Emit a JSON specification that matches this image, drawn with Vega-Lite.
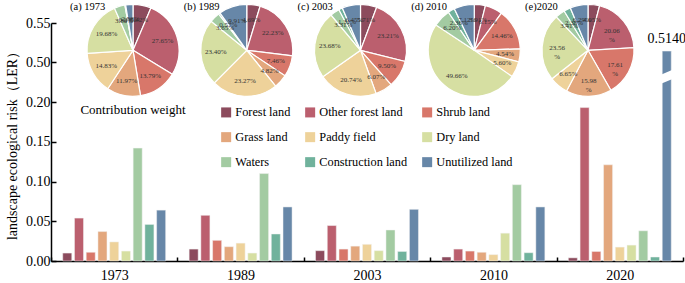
{
 "$schema": "https://vega.github.io/schema/vega-lite/v6.json",
 "autosize": {"type": "none"},
 "padding": {"left": 51, "top": 23, "right": 2, "bottom": 22},
 "width": 632,
 "height": 238,
 "config": {"font": "Liberation Serif", "view": {"stroke": null}},
 "datasets": {
  "ler": [
   {"year": "1973", "type": "Forest land", "value": 0.010},
   {"year": "1973", "type": "Other forest land", "value": 0.054},
   {"year": "1973", "type": "Shrub land", "value": 0.011},
   {"year": "1973", "type": "Grass land", "value": 0.037},
   {"year": "1973", "type": "Paddy field", "value": 0.024},
   {"year": "1973", "type": "Dry land", "value": 0.0125},
   {"year": "1973", "type": "Waters", "value": 0.142},
   {"year": "1973", "type": "Construction land", "value": 0.046},
   {"year": "1973", "type": "Unutilized land", "value": 0.064},
   {"year": "1989", "type": "Forest land", "value": 0.015},
   {"year": "1989", "type": "Other forest land", "value": 0.0575},
   {"year": "1989", "type": "Shrub land", "value": 0.026},
   {"year": "1989", "type": "Grass land", "value": 0.018},
   {"year": "1989", "type": "Paddy field", "value": 0.0225},
   {"year": "1989", "type": "Dry land", "value": 0.010},
   {"year": "1989", "type": "Waters", "value": 0.110},
   {"year": "1989", "type": "Construction land", "value": 0.034},
   {"year": "1989", "type": "Unutilized land", "value": 0.068},
   {"year": "2003", "type": "Forest land", "value": 0.013},
   {"year": "2003", "type": "Other forest land", "value": 0.0446},
   {"year": "2003", "type": "Shrub land", "value": 0.015},
   {"year": "2003", "type": "Grass land", "value": 0.0187},
   {"year": "2003", "type": "Paddy field", "value": 0.021},
   {"year": "2003", "type": "Dry land", "value": 0.013},
   {"year": "2003", "type": "Waters", "value": 0.039},
   {"year": "2003", "type": "Construction land", "value": 0.012},
   {"year": "2003", "type": "Unutilized land", "value": 0.065},
   {"year": "2010", "type": "Forest land", "value": 0.005},
   {"year": "2010", "type": "Other forest land", "value": 0.015},
   {"year": "2010", "type": "Shrub land", "value": 0.0125},
   {"year": "2010", "type": "Grass land", "value": 0.011},
   {"year": "2010", "type": "Paddy field", "value": 0.008},
   {"year": "2010", "type": "Dry land", "value": 0.035},
   {"year": "2010", "type": "Waters", "value": 0.096},
   {"year": "2010", "type": "Construction land", "value": 0.0104},
   {"year": "2010", "type": "Unutilized land", "value": 0.068},
   {"year": "2020", "type": "Forest land", "value": 0.004},
   {"year": "2020", "type": "Other forest land", "value": 0.193},
   {"year": "2020", "type": "Shrub land", "value": 0.012},
   {"year": "2020", "type": "Grass land", "value": 0.121},
   {"year": "2020", "type": "Paddy field", "value": 0.0175},
   {"year": "2020", "type": "Dry land", "value": 0.020},
   {"year": "2020", "type": "Waters", "value": 0.038},
   {"year": "2020", "type": "Construction land", "value": 0.005},
   {"year": "2020", "type": "Unutilized land", "value": 0.514}
  ],
  "pie": [
   {"year": "1973", "type": "Forest land", "idx": 1, "pct": 6.42, "label": "6.42%"},
   {"year": "1973", "type": "Other forest land", "idx": 2, "pct": 27.65, "label": "27.65%"},
   {"year": "1973", "type": "Shrub land", "idx": 3, "pct": 13.79, "label": "13.79%"},
   {"year": "1973", "type": "Grass land", "idx": 4, "pct": 11.97, "label": "11.97%"},
   {"year": "1973", "type": "Paddy field", "idx": 5, "pct": 14.83, "label": "14.83%"},
   {"year": "1973", "type": "Dry land", "idx": 6, "pct": 19.68, "label": "19.68%"},
   {"year": "1973", "type": "Waters", "idx": 7, "pct": 3.80, "label": "3.80%"},
   {"year": "1973", "type": "Construction land", "idx": 8, "pct": 0.27, "label": "0.27%"},
   {"year": "1973", "type": "Unutilized land", "idx": 9, "pct": 2.58, "label": "2.58%"},
   {"year": "1989", "type": "Forest land", "idx": 1, "pct": 4.69, "label": "4.69%"},
   {"year": "1989", "type": "Other forest land", "idx": 2, "pct": 22.23, "label": "22.23%"},
   {"year": "1989", "type": "Shrub land", "idx": 3, "pct": 7.46, "label": "7.46%"},
   {"year": "1989", "type": "Grass land", "idx": 4, "pct": 4.82, "label": "4.82%"},
   {"year": "1989", "type": "Paddy field", "idx": 5, "pct": 23.27, "label": "23.27%"},
   {"year": "1989", "type": "Dry land", "idx": 6, "pct": 23.40, "label": "23.40%"},
   {"year": "1989", "type": "Waters", "idx": 7, "pct": 3.65, "label": "3.65%"},
   {"year": "1989", "type": "Construction land", "idx": 8, "pct": 0.57, "label": "0.57%"},
   {"year": "1989", "type": "Unutilized land", "idx": 9, "pct": 9.91, "label": "9.91%"},
   {"year": "2003", "type": "Forest land", "idx": 1, "pct": 5.71, "label": "5.71%"},
   {"year": "2003", "type": "Other forest land", "idx": 2, "pct": 23.21, "label": "23.21%"},
   {"year": "2003", "type": "Shrub land", "idx": 3, "pct": 9.50, "label": "9.50%"},
   {"year": "2003", "type": "Grass land", "idx": 4, "pct": 6.07, "label": "6.07%"},
   {"year": "2003", "type": "Paddy field", "idx": 5, "pct": 20.74, "label": "20.74%"},
   {"year": "2003", "type": "Dry land", "idx": 6, "pct": 23.68, "label": "23.68%"},
   {"year": "2003", "type": "Waters", "idx": 7, "pct": 3.31, "label": "3.31%"},
   {"year": "2003", "type": "Construction land", "idx": 8, "pct": 1.31, "label": "1.31%"},
   {"year": "2003", "type": "Unutilized land", "idx": 9, "pct": 6.45, "label": "6.45%"},
   {"year": "2010", "type": "Forest land", "idx": 1, "pct": 3.91, "label": "3.91%"},
   {"year": "2010", "type": "Other forest land", "idx": 2, "pct": 6.15, "label": "6.15%"},
   {"year": "2010", "type": "Shrub land", "idx": 3, "pct": 14.46, "label": "14.46%"},
   {"year": "2010", "type": "Grass land", "idx": 4, "pct": 4.54, "label": "4.54%"},
   {"year": "2010", "type": "Paddy field", "idx": 5, "pct": 5.60, "label": "5.60%"},
   {"year": "2010", "type": "Dry land", "idx": 6, "pct": 49.66, "label": "49.66%"},
   {"year": "2010", "type": "Waters", "idx": 7, "pct": 6.20, "label": "6.20%"},
   {"year": "2010", "type": "Construction land", "idx": 8, "pct": 2.36, "label": "2.36%"},
   {"year": "2010", "type": "Unutilized land", "idx": 9, "pct": 7.12, "label": "7.12%"},
   {"year": "2020", "type": "Forest land", "idx": 1, "pct": 4.05, "label": "4.05%"},
   {"year": "2020", "type": "Other forest land", "idx": 2, "pct": 20.06, "label": "20.06\n%"},
   {"year": "2020", "type": "Shrub land", "idx": 3, "pct": 17.61, "label": "17.61\n%"},
   {"year": "2020", "type": "Grass land", "idx": 4, "pct": 15.98, "label": "15.98\n%"},
   {"year": "2020", "type": "Paddy field", "idx": 5, "pct": 6.65, "label": "6.65%"},
   {"year": "2020", "type": "Dry land", "idx": 6, "pct": 23.56, "label": "23.56\n%"},
   {"year": "2020", "type": "Waters", "idx": 7, "pct": 3.41, "label": "3.41%"},
   {"year": "2020", "type": "Construction land", "idx": 8, "pct": 2.38, "label": "2.38%"},
   {"year": "2020", "type": "Unutilized land", "idx": 9, "pct": 6.29, "label": "6.29%"}
  ],
  "panels": [
   {"year": "1973", "title": "(a) 1973"},
   {"year": "1989", "title": "(b) 1989"},
   {"year": "2003", "title": "(c) 2003"},
   {"year": "2010", "title": "(d) 2010"},
   {"year": "2020", "title": "(e)2020"}
  ]
 },
 "resolve": {"scale": {"x": "independent"}},
 "layer": [
  {
   "data": {"name": "ler"},
   "encoding": {
    "x": {"field": "year", "type": "nominal", "sort": null,
     "scale": {"paddingInner": 0, "paddingOuter": 0},
     "axis": {"title": null, "labelAngle": 0, "tickBand": "extent", "tickSize": -4, "tickColor": "black", "tickWidth": 1.5, "domainColor": "black", "domainWidth": 1.5, "labelFontSize": 14, "labelColor": "black", "labelPadding": 11, "labelFont": "Liberation Serif"}},
    "xOffset": {"field": "type", "type": "nominal",
     "scale": {"domain": ["Forest land", "Other forest land", "Shrub land", "Grass land", "Paddy field", "Dry land", "Waters", "Construction land", "Unutilized land"], "paddingInner": 0.23, "paddingOuter": 1.0}},
    "y": {"field": "value", "type": "quantitative",
     "scale": {"domain": [0, 0.2, 0.5, 0.55], "range": [238, 79, 39, 0], "nice": false, "zero": false},
     "axis": {"values": [0, 0.05, 0.1, 0.15, 0.2, 0.5, 0.55], "tickCount": 20, "format": ".2f", "labelOverlap": false, "labelFlush": false, "title": "landscape ecological risk（LER）", "titleFontSize": 14, "titleFontWeight": "normal", "titleColor": "black", "titleFont": "Liberation Serif", "titlePadding": 6, "grid": false, "tickSize": -5, "tickColor": "black", "tickWidth": 1.5, "domainColor": "black", "domainWidth": 1.5, "labelFontSize": 14, "labelColor": "black", "labelPadding": 6, "labelFont": "Liberation Serif"}}
   },
   "layer": [
    {"mark": {"type": "bar", "stroke": "#f2f2f2", "strokeWidth": 0.5},
     "encoding": {"color": {"field": "type", "type": "nominal",
      "scale": {"domain": ["Forest land", "Other forest land", "Shrub land", "Grass land", "Paddy field", "Dry land", "Waters", "Construction land", "Unutilized land"],
       "range": ["#8c4b5d", "#bb5f6e", "#d8776a", "#e3a77d", "#eed29a", "#d6dfa2", "#a3cba2", "#70b29c", "#6787a8"]},
      "legend": {"title": null, "orient": "none", "direction": "horizontal", "legendX": 169, "legendY": 83, "columns": 3, "symbolType": "square", "symbolSize": 100, "symbolStrokeWidth": 0, "labelFontSize": 12.3, "labelFont": "Liberation Serif", "labelColor": "black", "rowPadding": 12, "columnPadding": 13, "padding": 0, "labelOffset": 3}}}},
    {"transform": [{"filter": "datum.value > 0.5"}],
     "mark": {"type": "text", "baseline": "bottom", "dy": -5, "fontSize": 14, "color": "black", "font": "Liberation Serif"},
     "encoding": {"text": {"field": "value", "type": "quantitative", "format": ".4f"}}},
    {"transform": [{"filter": "datum.value > 0.5"}],
     "mark": {"type": "point", "shape": "M-1,-0.2L1,-1.05L1,0.25L-1,1.1Z", "filled": true, "color": "white", "opacity": 1, "size": 196, "strokeWidth": 0},
     "encoding": {"y": {"datum": 0.39}}}
   ]
  },
  {
   "layer": [
    {
     "data": {"name": "pie"},
     "encoding": {
      "x": {"field": "year", "type": "ordinal", "scale": {"type": "point", "domain": ["1973", "1989", "2003", "2010", "2020"], "range": [82, 537], "padding": 0}, "axis": null},
      "y": {"datum": 0.515},
      "theta": {"field": "pct", "type": "quantitative", "stack": "normalize"},
      "order": {"field": "idx", "type": "quantitative"},
      "color": {"field": "type", "type": "nominal"}
     },
     "layer": [
      {"transform": [{"filter": "datum.year == '1973'"}], "layer": [
       {"mark": {"type": "arc", "outerRadius": 46, "stroke": "white", "strokeWidth": 1.2}},
       {"mark": {"type": "text", "radius": 31, "fontSize": 7, "lineBreak": "\n", "font": "Liberation Serif"}, "encoding": {"text": {"field": "label"}, "detail": {"field": "type"}, "color": {"value": "#333333"}}}
      ]},
      {"transform": [{"filter": "datum.year == '1989'"}], "layer": [
       {"mark": {"type": "arc", "outerRadius": 46, "stroke": "white", "strokeWidth": 1.2}},
       {"mark": {"type": "text", "radius": 31, "fontSize": 7, "lineBreak": "\n", "font": "Liberation Serif"}, "encoding": {"text": {"field": "label"}, "detail": {"field": "type"}, "color": {"value": "#333333"}}}
      ]},
      {"transform": [{"filter": "datum.year == '2003'"}], "layer": [
       {"mark": {"type": "arc", "outerRadius": 46, "stroke": "white", "strokeWidth": 1.2}},
       {"mark": {"type": "text", "radius": 31, "fontSize": 7, "lineBreak": "\n", "font": "Liberation Serif"}, "encoding": {"text": {"field": "label"}, "detail": {"field": "type"}, "color": {"value": "#333333"}}}
      ]},
      {"transform": [{"filter": "datum.year == '2010'"}], "layer": [
       {"mark": {"type": "arc", "outerRadius": 46, "stroke": "white", "strokeWidth": 1.2}},
       {"mark": {"type": "text", "radius": 31, "fontSize": 7, "lineBreak": "\n", "font": "Liberation Serif"}, "encoding": {"text": {"field": "label"}, "detail": {"field": "type"}, "color": {"value": "#333333"}}}
      ]},
      {"transform": [{"filter": "datum.year == '2020'"}], "layer": [
       {"mark": {"type": "arc", "outerRadius": 46, "stroke": "white", "strokeWidth": 1.2}},
       {"mark": {"type": "text", "radius": 31, "fontSize": 7, "lineBreak": "\n", "font": "Liberation Serif"}, "encoding": {"text": {"field": "label"}, "detail": {"field": "type"}, "color": {"value": "#333333"}}}
      ]}
     ]
    },
    {
     "data": {"name": "panels"},
     "mark": {"type": "text", "align": "left", "dx": -63, "dy": -43, "fontSize": 10.5, "color": "black", "font": "Liberation Serif"},
     "encoding": {
      "x": {"field": "year", "type": "ordinal", "scale": {"type": "point", "domain": ["1973", "1989", "2003", "2010", "2020"], "range": [82, 537], "padding": 0}, "axis": null},
      "y": {"datum": 0.515},
      "text": {"field": "title"}
     }
    },
    {
     "data": {"values": [{"year": "1973", "label": "Contribution weight"}]},
     "mark": {"type": "text", "dx": 0, "dy": 8, "fontSize": 13, "color": "black", "font": "Liberation Serif"},
     "encoding": {
      "x": {"field": "year", "type": "ordinal", "scale": {"type": "point", "domain": ["1973", "1989", "2003", "2010", "2020"], "range": [82, 537], "padding": 0}, "axis": null},
      "y": {"datum": 0.2},
      "text": {"field": "label"}
     }
    }
   ]
  }
 ]
}
